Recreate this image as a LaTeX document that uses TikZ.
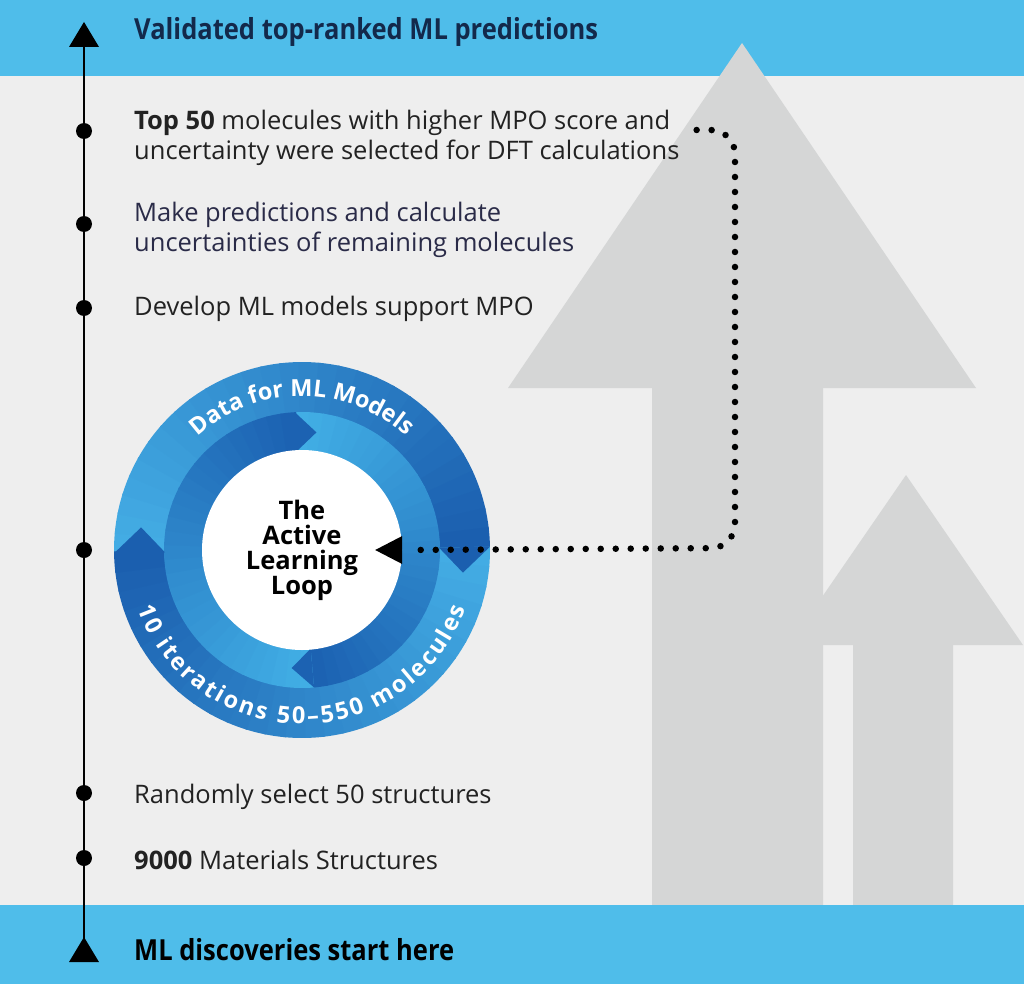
\documentclass[tikz,border=0pt]{standalone}
\usepackage{fontspec}
\setmainfont{Open Sans}
\newfontfamily\condfont[FakeStretch=0.88]{Open Sans}
\usetikzlibrary{decorations.text,calc}
\definecolor{bgcolor}{HTML}{EEEEEE}
\definecolor{bandblue}{HTML}{4FBDEA}
\definecolor{arrowgray}{HTML}{D5D6D6}
\definecolor{navy}{HTML}{13294B}
\definecolor{bodytext}{HTML}{222222}
\definecolor{bodynavy}{HTML}{2A2B48}
\definecolor{olight}{HTML}{43ACE4}
\definecolor{odark}{HTML}{1B5FAF}
\definecolor{ilight}{HTML}{41AEE5}
\definecolor{idark}{HTML}{1C62B2}
\newcommand\ringarrow[6]{%
  \foreach \k in {0,...,29}{%
    \pgfmathsetmacro\aa{#1+(#2-#1)*\k/30}%
    \pgfmathsetmacro\bb{#1+(#2-#1)*(\k+1)/30+0.6}%
    \pgfmathtruncatemacro\pc{100*\k/29}%
    \fill[color=#6!\pc!#5] (\aa:#3) arc[start angle=\aa, end angle=\bb, radius=#3] -- (\bb:#4) arc[start angle=\bb, end angle=\aa, radius=#4] -- cycle;
  }%
}
\newcommand\ringhead[5]{%
  \fill[#4] (#1:#2) -- ({#1+#5}:{(#2+#3)/2}) -- (#1:#3) -- cycle;%
}
\newcommand\ringfont{\bfseries\fontsize{23.5}{23.5}\selectfont}
\begin{document}
\begin{tikzpicture}[x=1pt,y=-1pt,
  item/.style={anchor=west, align=left, font=\fontsize{25.5}{30}\selectfont, text=bodytext, inner sep=0pt},
  hdr/.style={anchor=west, inner sep=0pt, font=\condfont\bfseries\fontsize{29}{32}\selectfont, text=navy},
  tdot/.style={circle, fill=black, minimum size=16pt, inner sep=0pt},
  dotline/.style={line width=6.5pt, line cap=round, dash pattern=on 0pt off 15pt},
]
\useasboundingbox (0,0) rectangle (1024,984);
\fill[bgcolor] (0,0) rectangle (1024,984);
\fill[bandblue] (0,0) rectangle (1024,76);
% grey arrows
\fill[arrowgray] (652,905) -- (652,388) -- (508,388) -- (742,43) -- (976,388) -- (823,388) -- (823,905) -- cycle;
\fill[arrowgray] (853,905) -- (853,645) -- (789,645) -- (906,475) -- (1023,645) -- (953,645) -- (953,905) -- cycle;
\fill[bandblue] (0,905) rectangle (1024,984);
% headers
\node[hdr] (top) at (134,32) {Validated top-ranked ML predictions};
\node[hdr, text=black] (bottom) at (134,950) {ML discoveries start here};
% timeline
\draw[line width=2.5pt] (84,40) -- (84,950);
\fill (84,22) -- (99,47) -- (69,47) -- cycle;
\fill (84,937) -- (99,962) -- (69,962) -- cycle;
\node[tdot] (d1) at (84,131) {};
\node[tdot] (d2) at (84,224) {};
\node[tdot] (d3) at (84,308) {};
\node[tdot] (d4) at (84,550) {};
\node[tdot] (d5) at (84,793) {};
\node[tdot] (d6) at (84,858) {};
\node[item] (t1) at (134,138) {\textbf{Top 50} molecules with higher MPO score and\\uncertainty were selected for DFT calculations};
\node[item, text=bodynavy] (t2) at (134,230) {Make predictions and calculate\\uncertainties of remaining molecules};
\node[item] (t3) at (134,309) {Develop ML models support MPO};
\node[item] (t5) at (134,797) {Randomly select 50 structures};
\node[item] (t6) at (134,860) {\textbf{9000} Materials Structures};
% loop
\begin{scope}[shift={(302,550)}]
  \ringarrow{-181}{-1}{137}{188}{olight}{odark}
  \ringarrow{-1}{179}{137}{188}{olight}{odark}
  \ringarrow{-93}{85}{99}{138}{ilight}{idark}
  \ringarrow{85}{267}{99}{138}{ilight}{idark}
  \ringhead{-1}{137}{188}{odark}{9}
  \ringhead{179}{137}{188}{odark}{9}
  \ringhead{85}{99}{138}{idark}{10}
  \ringhead{267}{99}{138}{idark}{10}
  \path[decorate, decoration={text effects along path, text={Data for ML Models}, text align=center,
     text effects/.cd, text along path, characters={text=white, font=\ringfont}}]
     (-172:154) arc[start angle=-172, end angle=-8, radius=154];
  \path[decorate, decoration={text effects along path, text={10 iterations 50–550 molecules}, text align=center,
     text effects/.cd, text along path, characters={text=white, font=\ringfont},
     character widths={font=\ringfont, inner xsep=1.2pt}}]
     (-190:174) arc[start angle=-190, end angle=-350, radius=174];
\end{scope}
\node[circle, fill=white, minimum size=200pt, inner sep=0pt, align=center, font=\bfseries\fontsize{25.5}{25}\selectfont, text=black] (core) at (302,550) {The\\Active\\Learning\\Loop};
% connector
\coordinate (bend) at (735,548);
\draw[dotline, rounded corners=24pt] ([xshift=17pt,yshift=8pt]t1.east) -| (bend) -- ([xshift=8pt]core.east);
\fill (core.east) ++(0,-14) -- ++(0,28) -- ($(core.east)+(-27,0)$) -- cycle;
\end{tikzpicture}
\end{document}
